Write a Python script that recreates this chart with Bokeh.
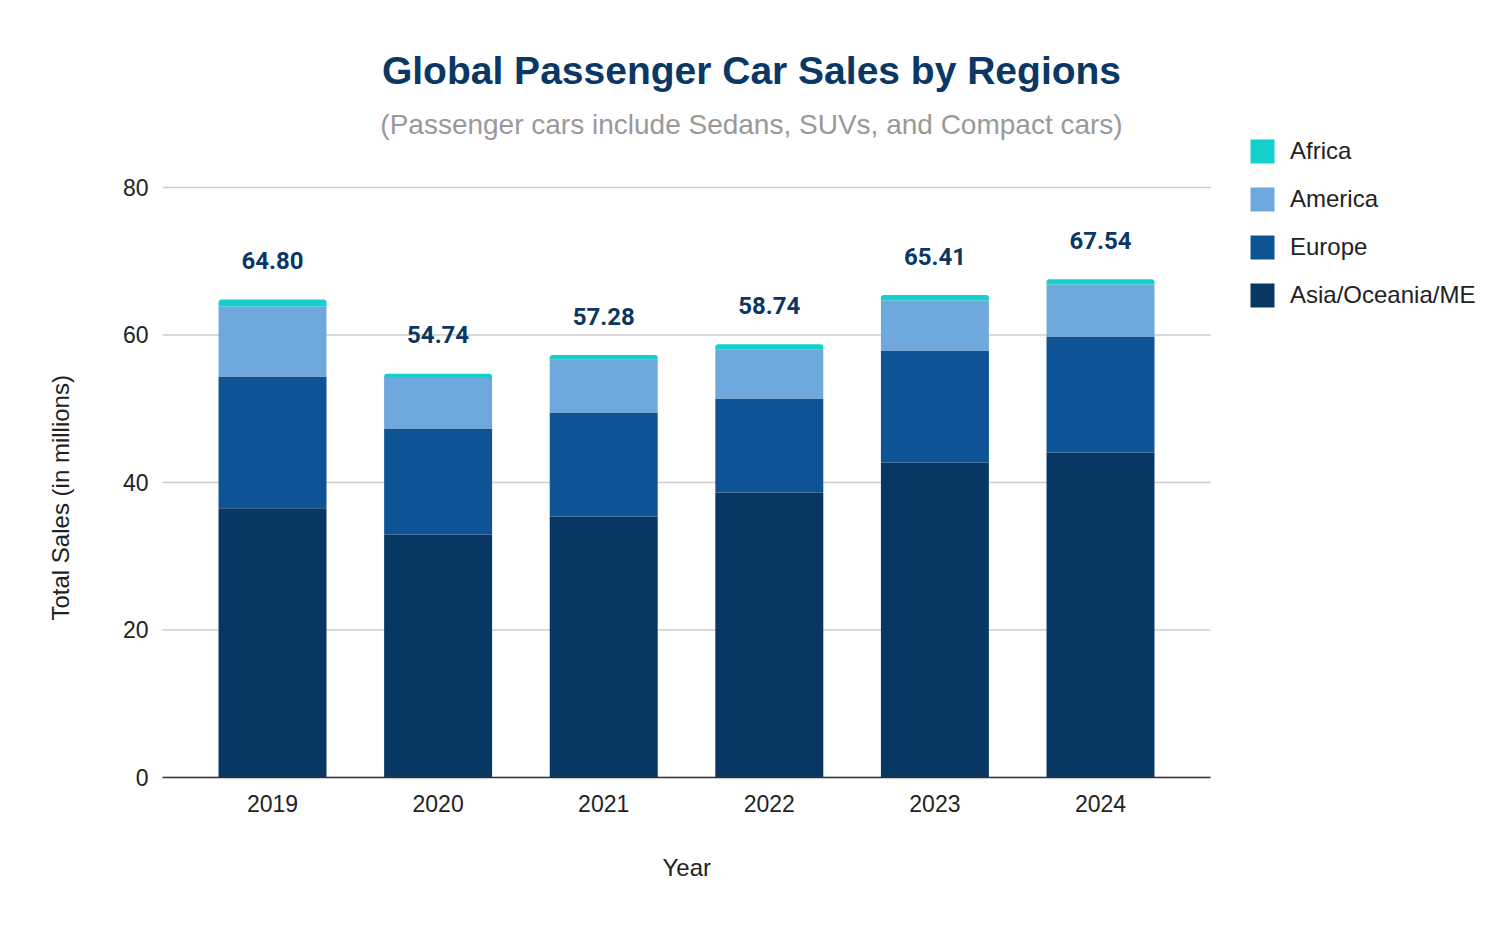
from bokeh.plotting import figure
from bokeh.models import (ColumnDataSource, Range1d, FixedTicker, Legend, LegendItem, Label, Title)
from bokeh.core.properties import value
from bokeh.embed import file_html
from bokeh.resources import INLINE

years = ["2019", "2020", "2021", "2022", "2023", "2024"]
asia = [36.50, 32.95, 35.39, 38.64, 42.71, 44.07]
europe = [17.87, 14.37, 14.10, 12.75, 15.19, 15.73]
america = [9.49, 6.85, 7.14, 6.61, 6.78, 7.05]
africa = [0.94, 0.57, 0.65, 0.74, 0.73, 0.69]
totals = [64.80, 54.74, 57.28, 58.74, 65.41, 67.54]
total_labels = ["64.80", "54.74", "57.28", "58.74", "65.41", "67.54"]

series = ["Asia/Oceania/ME", "Europe", "America", "Africa"]
colors = ["#083763", "#0e5394", "#6fa8dc", "#14cfcb"]
y_ticks = [0, 20, 40, 60, 80]

x_idx = list(range(len(years)))
source = ColumnDataSource(dict(x=x_idx, year=years, asia=asia, europe=europe, america=america,
                               africa=africa, total=totals, label=total_labels))

# category band: half a slot plus side padding on each side of the bars
x_lo, x_hi = -0.6643, len(years) - 1 + 0.6643
# frame covers x 162..1502 and y 20..777 ; value 80 lands at y=187
p = figure(width=1502, height=928, output_backend="svg", toolbar_location=None,
           x_range=Range1d(x_lo, 7.4275), y_range=Range1d(0, 102.64),
           min_border_left=162, min_border_right=0, min_border_top=20, min_border_bottom=151)
p.outline_line_color = None
p.background_fill_color = "white"
p.xgrid.grid_line_color = None
p.ygrid.grid_line_color = None

# horizontal grid lines, limited to the category band
p.segment(x0=[x_lo] * len(y_ticks), x1=[x_hi] * len(y_ticks), y0=y_ticks, y1=y_ticks,
          line_color="#cccccc", line_width=1.5)

renderers = p.vbar_stack(["asia", "europe", "america", "africa"], x="x", width=0.652,
                         color=colors, line_color=None, source=source)
if hasattr(renderers[-1].glyph, "border_radius"):
    renderers[-1].glyph.border_radius = (3, 3, 0, 0)

p.text(x="x", y="total", text="label", source=source, y_offset=-39,
       text_align="center", text_baseline="alphabetic",
       text_font=value("Roboto"), text_font_style="bold", text_font_size="24px",
       text_color="#0b3764")

# axes
for ax in (p.xaxis, p.yaxis):
    ax.major_label_text_font = "Liberation Sans"
    ax.major_label_text_font_size = "23px"
    ax.major_label_text_color = "#222222"
    ax.major_tick_line_color = None
    ax.minor_tick_line_color = None
    ax.major_tick_in = 0
    ax.major_tick_out = 0
p.yaxis.axis_line_color = None
p.yaxis.ticker = FixedTicker(ticks=y_ticks)
p.yaxis.bounds = (0, 80)
p.yaxis.major_label_standoff = 14
p.xaxis.ticker = FixedTicker(ticks=x_idx)
p.xaxis.major_label_overrides = {i: y for i, y in zip(x_idx, years)}
p.xaxis.bounds = (x_lo, x_hi)
p.xaxis.axis_line_color = "#333333"
p.xaxis.axis_line_width = 1.5
p.xaxis.major_label_standoff = 17

# axis titles, placed along the category band / value band
p.add_layout(Title(text="Year", align="left", offset=500, vertical_align="top", standoff=78,
                   text_font="Liberation Sans", text_font_style="normal",
                   text_font_size="24px", text_color="#222222"), "below")
p.add_layout(Title(text="Total Sales (in millions)", align="left", offset=157,
                   vertical_align="middle", standoff=90,
                   text_font="Liberation Sans", text_font_style="normal",
                   text_font_size="24px", text_color="#222222"), "left")

# title and subtitle (screen units relative to the plot frame's bottom-left)
p.add_layout(Label(x=589, y=707, x_units="screen", y_units="screen",
                   text="Global Passenger Car Sales by Regions", text_align="center",
                   text_baseline="alphabetic", text_font="Liberation Sans", text_font_style="bold",
                   text_font_size="39px", text_color="#0b3764"))
p.add_layout(Label(x=589, y=653, x_units="screen", y_units="screen",
                   text="(Passenger cars include Sedans, SUVs, and Compact cars)",
                   text_align="center", text_baseline="alphabetic",
                   text_font="Liberation Sans", text_font_size="28px", text_color="#999999"))

items = [LegendItem(label=series[i], renderers=[renderers[i]]) for i in [3, 2, 1, 0]]
legend = Legend(items=items, location=(1085, 467), orientation="vertical",
                glyph_width=30, glyph_height=30, label_height=30, spacing=18,
                label_standoff=13, padding=0, margin=0, border_line_color=None,
                background_fill_alpha=0, label_text_font="Liberation Sans",
                label_text_font_size="24px", label_text_color="#222222")
p.add_layout(legend)

open("out.html", "w").write(file_html(p, INLINE))
